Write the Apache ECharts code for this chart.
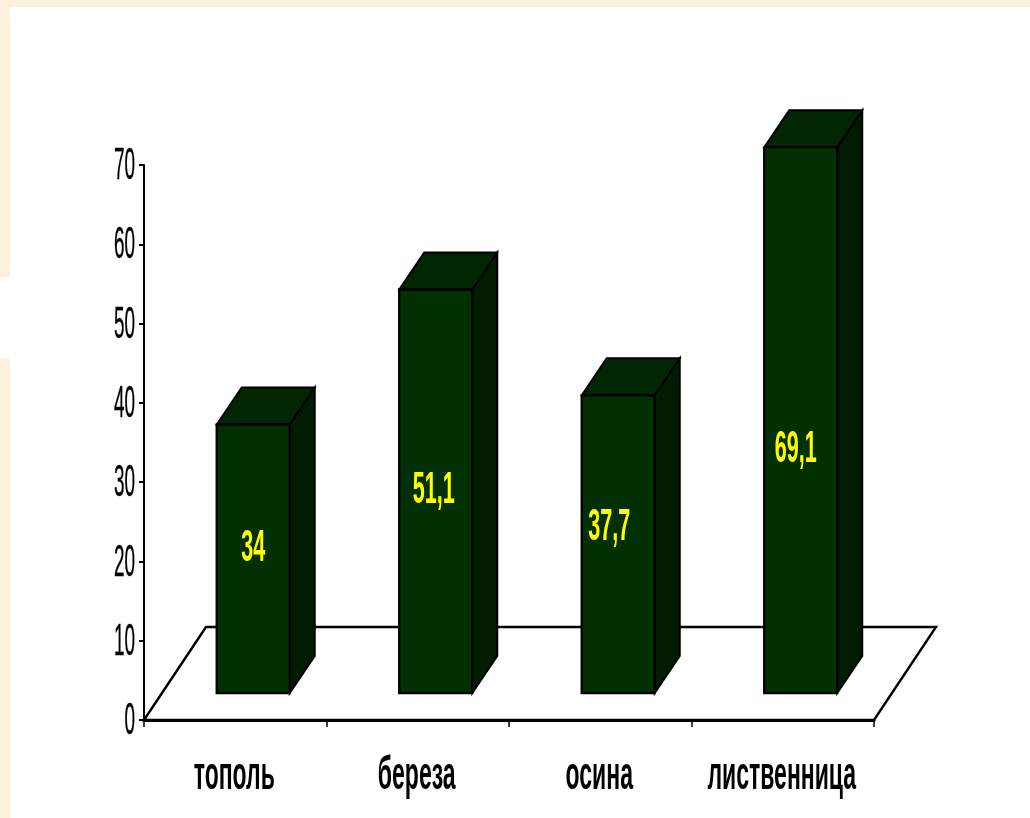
<!DOCTYPE html>
<html>
<head>
<meta charset="utf-8">
<style>html,body{margin:0;padding:0;background:#fbf1dc}#chart{width:1030px;height:818px}</style>
<script src="https://cdn.jsdelivr.net/npm/echarts@6/dist/echarts.min.js"></script>
</head>
<body>
<div id="chart"></div>
<script>
// Сравнение пород деревьев
const categories = ['тополь', 'береза', 'осина', 'лиственница'];
const values = [34, 51.1, 37.7, 69.1];
const valueLabels = ['34', '51,1', '37,7', '69,1'];
const yTicks = [0, 10, 20, 30, 40, 50, 60, 70];

// Hand-placed label shifts relative to the middle of each front face
const labelShift = [[0, -10], [-2, 0], [-9, -16], [-5, 30]];

const FRONT = '#033003', TOP = '#022602', SIDE = '#011c01';
const DEPTH_X = 25, DEPTH_Y = 37;      // oblique projection of the bars
const BAR_W = 73, BAR_DX = 18, LIFT = 27, HEIGHT_K = 0.996;
const FLOOR_X = 62, FLOOR_Y = 93;
const FONT = '"Liberation Sans", Arial, sans-serif';

function poly(points, fill, lineWidth) {
  return { type: 'polygon', shape: { points },
    style: { fill, stroke: '#000', lineWidth: lineWidth || 2, lineJoin: 'miter' } };
}
function squeezed(text, x, y, size, sx, weight, fill, align, thicken) {
  return { type: 'text', x, y, scaleX: sx, z2: 10,
    style: { text, x: 0, y: 0, fill, align, verticalAlign: 'middle',
      stroke: thicken ? fill : null, lineWidth: thicken || 0,
      font: weight + ' ' + size + 'px ' + FONT } };
}

const option = {
  animation: false,
  backgroundColor: '#fbf1dc',
  graphic: [
    { type: 'rect', z: -10, shape: { x: 10, y: 7, width: 1020, height: 811 }, style: { fill: '#fff' } },
    { type: 'rect', z: -10, shape: { x: 0, y: 277, width: 10, height: 81 }, style: { fill: '#fff' } }
  ],
  grid: { left: 144, right: 156, top: 165, bottom: 98 },
  xAxis: {
    type: 'category', data: categories, z: 5,
    axisLine: { lineStyle: { color: '#000', width: 3 } },
    axisTick: { show: true, length: 7, lineStyle: { color: '#000', width: 1.5 } },
    axisLabel: { show: false }, splitLine: { show: false }
  },
  yAxis: {
    type: 'value', min: 0, max: 70, interval: 10,
    axisLine: { show: true, lineStyle: { color: '#000', width: 2 } },
    axisTick: { show: true, length: 5, lineStyle: { color: '#000', width: 2 } },
    axisLabel: { show: false }, splitLine: { show: false }
  },
  series: [
    { // floor plane
      type: 'custom', z: 1, silent: true, data: [0],
      renderItem(params, api) {
        const c = params.coordSys, x0 = c.x, x1 = c.x + c.width, y = c.y + c.height;
        return { type: 'polygon', shape: { points: [[x0, y], [x0 + FLOOR_X, y - FLOOR_Y], [x1 + FLOOR_X, y - FLOOR_Y], [x1, y]] },
          style: { fill: '#fff', stroke: '#000', lineWidth: 2.4 } };
      }
    },
    { // bars
      type: 'custom', z: 3, silent: true,
      data: values.map((v, i) => [i, v]),
      encode: { x: 0, y: 1 },
      renderItem(params, api) {
        const i = api.value(0), top = api.coord([i, api.value(1)]), zero = api.coord([i, 0]);
        const l = top[0] + BAR_DX - BAR_W / 2, r = l + BAR_W;
        const b = zero[1] - LIFT, t = b - (zero[1] - top[1]) * HEIGHT_K;
        const s = labelShift[params.dataIndex];
        return { type: 'group', children: [
          poly([[r, t], [r + DEPTH_X, t - DEPTH_Y], [r + DEPTH_X, b - DEPTH_Y], [r, b]], SIDE),
          poly([[l, t], [l + DEPTH_X, t - DEPTH_Y], [r + DEPTH_X, t - DEPTH_Y], [r, t]], TOP),
          poly([[l, t], [r, t], [r, b], [l, b]], FRONT, 2.4),
          squeezed(valueLabels[params.dataIndex], (l + r) / 2 + s[0], (t + b) / 2 + s[1], 44, 0.49, 'bold', '#ffff00', 'center')
        ] };
      }
    },
    { // y tick labels
      type: 'custom', z: 4, silent: true,
      data: yTicks.map(v => [0, v]),
      encode: { y: 1 },
      renderItem(params, api) {
        const p = api.coord([0, api.value(1)]);
        return squeezed(String(api.value(1)), params.coordSys.x - 9, p[1] + 2, 44, 0.43, 'normal', '#000', 'right', 0.4);
      }
    },
    { // category labels
      type: 'custom', z: 4, silent: true,
      data: categories.map((c, i) => [i, 0]),
      encode: { x: 0 },
      renderItem(params, api) {
        const p = api.coord([api.value(0), 0]);
        return squeezed(categories[params.dataIndex], p[0] - 1, p[1] + 56, 46, 0.5, 'bold', '#000', 'center');
      }
    }
  ]
};

echarts.init(document.getElementById('chart')).setOption(option);
</script>
</body>
</html>
